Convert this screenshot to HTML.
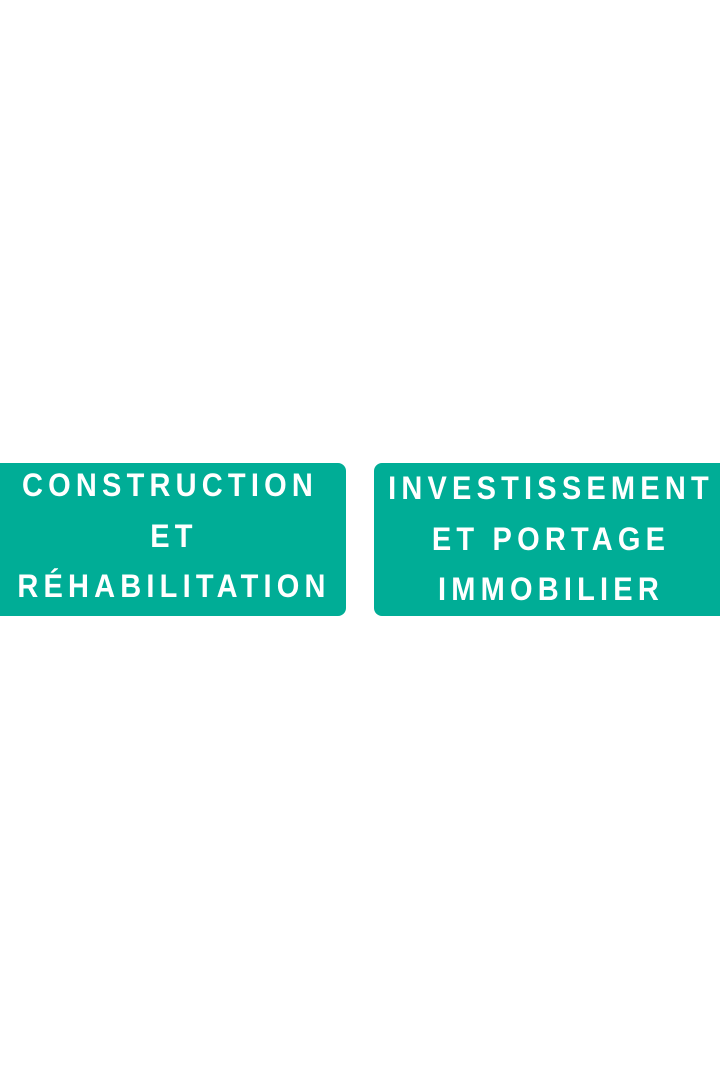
<!DOCTYPE html>
<html><head><meta charset="utf-8"><style>
html,body{margin:0;padding:0;background:#fff;width:720px;height:1080px;overflow:hidden;position:relative}
.box{position:absolute;top:463px;height:153px;background:#00AD96;border-radius:8px}
.t{position:absolute;width:400px;text-align:center;color:#fff;font-family:"Liberation Sans",sans-serif;font-weight:bold;font-size:29px;letter-spacing:5.2px;line-height:30px;white-space:nowrap;transform:scaleY(1.12)}
</style></head><body>
<div class="box" style="left:-8px;width:354px"></div>
<div class="box" style="left:374px;width:354px"></div>
<div class="t" style="left:-30px;top:471px">CONSTRUCTION</div>
<div class="t" style="left:-26px;top:522px">ET</div>
<div class="t" style="left:-26px;top:572px">RÉHABILITATION</div>
<div class="t" style="left:351px;top:474px">INVESTISSEMENT</div>
<div class="t" style="left:351px;top:525px">ET PORTAGE</div>
<div class="t" style="left:351px;top:575px">IMMOBILIER</div>
</body></html>
